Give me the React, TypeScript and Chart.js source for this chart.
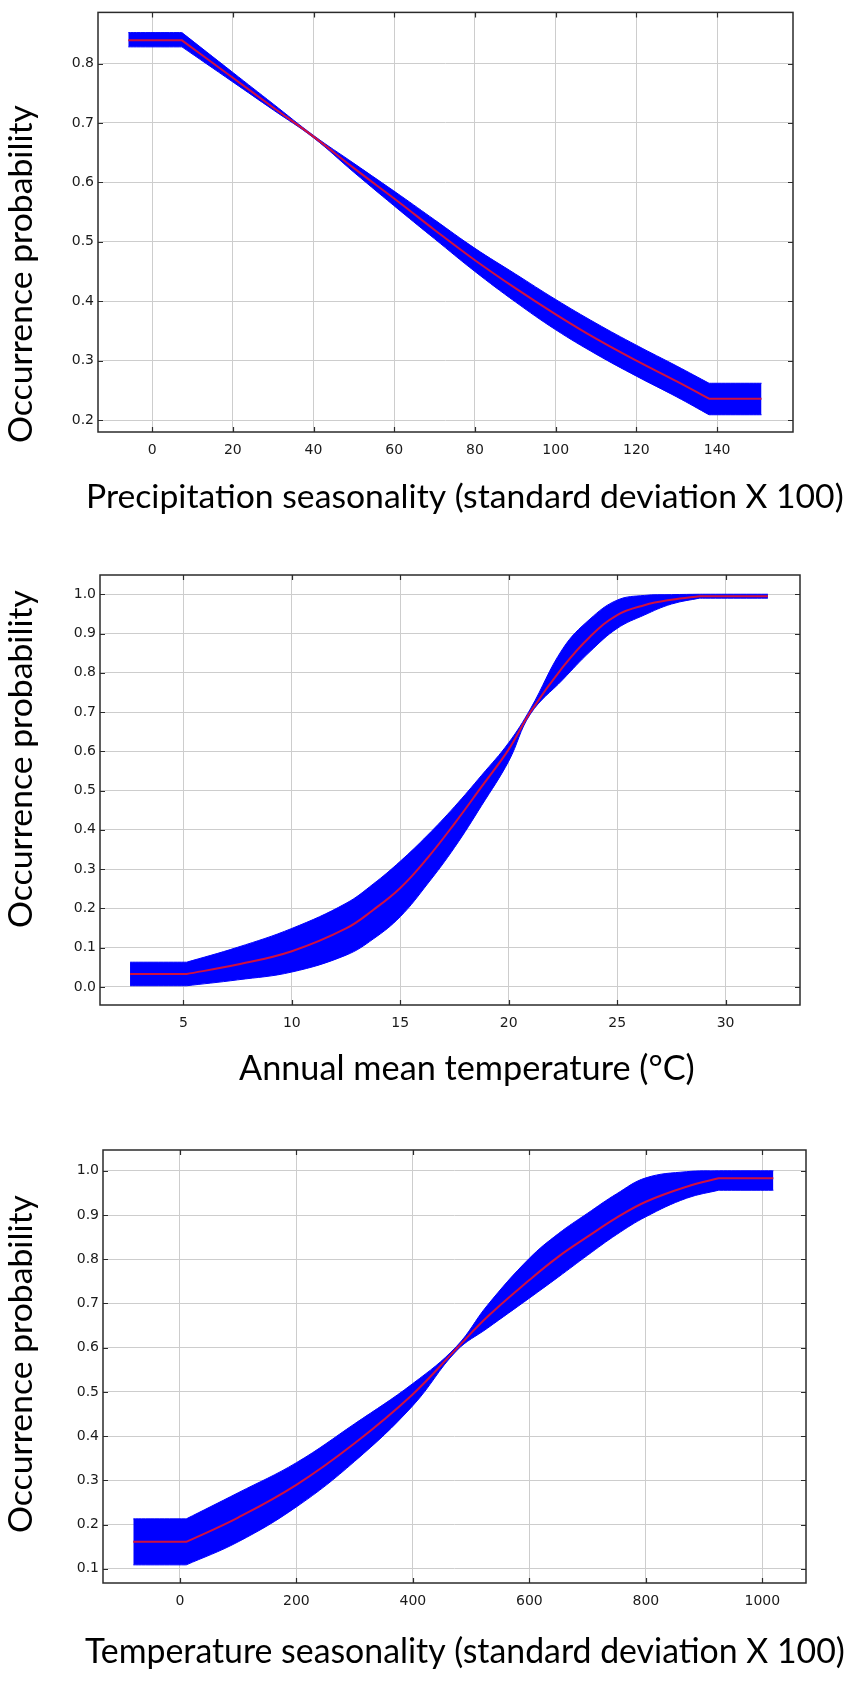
import React, { useEffect, useRef } from 'react';
import { Chart, registerables } from 'chart.js';

Chart.register(...registerables);

// Panel 1 - precipitation seasonality
const precipX = [-5.9, 7.4, 20, 30, 40, 50, 61.5, 70, 80, 90, 100, 110, 120, 130, 138, 151];
const precipMean = [0.839, 0.839, 0.776, 0.726, 0.677, 0.624, 0.565, 0.52, 0.469, 0.422, 0.378, 0.337, 0.3, 0.265, 0.236, 0.236];
const precipUpper = [0.852, 0.852, 0.785, 0.732, 0.679, 0.632, 0.578, 0.537, 0.489, 0.446, 0.403, 0.363, 0.326, 0.291, 0.262, 0.262];
const precipLower = [0.828, 0.828, 0.769, 0.722, 0.675, 0.617, 0.552, 0.505, 0.45, 0.399, 0.352, 0.311, 0.274, 0.239, 0.209, 0.209];
const precipXTicks = [0, 20, 40, 60, 80, 100, 120, 140];
const precipYTicks = [0.2, 0.3, 0.4, 0.5, 0.6, 0.7, 0.8];

// Panel 2 - annual mean temperature
const tempX = [2.54, 5.15, 7.5, 10, 12.5, 13.75, 15, 16.25, 17.5, 18.75, 20, 21, 22.5, 23.75, 25, 26.25, 27.5, 28.8, 31.95];
const tempMean = [0.033, 0.033, 0.057, 0.091, 0.149, 0.196, 0.252, 0.328, 0.416, 0.51, 0.605, 0.7, 0.815, 0.892, 0.947, 0.972, 0.986, 0.995, 0.995];
const tempUpper = [0.063, 0.063, 0.101, 0.149, 0.213, 0.262, 0.32, 0.386, 0.459, 0.539, 0.622, 0.708, 0.862, 0.937, 0.985, 0.997, 0.999, 1.0, 1.0];
const tempLower = [0.003, 0.003, 0.018, 0.038, 0.081, 0.122, 0.179, 0.262, 0.355, 0.462, 0.575, 0.695, 0.783, 0.854, 0.913, 0.947, 0.975, 0.99, 0.99];
const tempXTicks = [5, 10, 15, 20, 25, 30];
const tempYTicks = [0.0, 0.1, 0.2, 0.3, 0.4, 0.5, 0.6, 0.7, 0.8, 0.9, 1.0];

// Panel 3 - temperature seasonality
const tseasX = [-80, 11, 100, 200, 300, 400, 475, 528, 600, 650, 700, 750, 800, 870, 925, 1019];
const tseasMean = [0.161, 0.161, 0.216, 0.29, 0.384, 0.495, 0.598, 0.67, 0.753, 0.806, 0.851, 0.894, 0.93, 0.964, 0.983, 0.983];
const tseasUpper = [0.213, 0.213, 0.272, 0.34, 0.428, 0.519, 0.603, 0.696, 0.802, 0.858, 0.904, 0.948, 0.984, 0.998, 1.0, 1.0];
const tseasLower = [0.109, 0.109, 0.161, 0.24, 0.343, 0.469, 0.593, 0.644, 0.712, 0.76, 0.809, 0.856, 0.896, 0.938, 0.956, 0.956];
const tseasXTicks = [0, 200, 400, 600, 800, 1000];
const tseasYTicks = [0.1, 0.2, 0.3, 0.4, 0.5, 0.6, 0.7, 0.8, 0.9, 1.0];

const yTitle = 'Occurrence probability';
const precipTitle = 'Precipitation seasonality (standard deviation X 100)';
const tempTitle = 'Annual mean temperature (\u00B0C)';
const tseasTitle = 'Temperature seasonality (standard deviation X 100)';

const BLUE = '#0000ff';
const RED = '#d0103f';
const TITLE_FONT = 'Lato, "Open Sans", sans-serif';

interface PanelProps {
  xs: number[];
  mean: number[];
  upper: number[];
  lower: number[];
  xTicks: number[];
  yTicks: number[];
  xMin: number;
  xMax: number;
  yMin: number;
  yMax: number;
  top: number;
  height: number;
  plotLeft: number;
  plotRight: number;
  plotTop: number;
  axisHeight: number;
  xTitle: string;
  xTitleLeft: number;
  xTitleWidth: number;
  xTitleBaseline: number;
  yTitleCenter: number;
}

// the curves are clamped flat at both ends: keep those corners sharp
const kinkPlugin = {
  id: 'kinks',
  beforeDatasetsDraw(chart: any) {
    chart.getSortedVisibleDatasetMetas().forEach((meta: any) => {
      const line = meta.dataset;
      if (!line) return;
      line.updateControlPoints(chart.chartArea, meta.indexAxis || 'x');
      const pts = line.points;
      const n = pts.length;
      if (n < 4) return;
      const sharpen = (flat: number, k: number, nb: number) => {
        const a = pts[flat];
        const p = pts[k];
        const q = pts[nb];
        if (flat < k) {
          a.cp2x = a.x; a.cp2y = a.y;
          p.cp1x = p.x; p.cp1y = p.y;
          p.cp2x = p.x + (q.x - p.x) / 3; p.cp2y = p.y + (q.y - p.y) / 3;
        } else {
          a.cp1x = a.x; a.cp1y = a.y;
          p.cp2x = p.x; p.cp2y = p.y;
          p.cp1x = p.x + (q.x - p.x) / 3; p.cp1y = p.y + (q.y - p.y) / 3;
        }
      };
      sharpen(0, 1, 2);
      sharpen(n - 1, n - 2, n - 3);
    });
  },
};

const framePlugin = {
  id: 'frame',
  afterDraw(chart: any, _args: any, opts: any) {
    const { ctx, chartArea: a, scales } = chart;
    ctx.save();
    ctx.strokeStyle = '#2b2b2b';
    ctx.lineWidth = 1.5;
    ctx.strokeRect(a.left, a.top, a.right - a.left, a.bottom - a.top);

    ctx.lineWidth = 1.2;
    ctx.beginPath();
    scales.x.ticks.forEach((t: any) => {
      const px = Math.round(scales.x.getPixelForValue(t.value)) + 0.5;
      ctx.moveTo(px, a.bottom);
      ctx.lineTo(px, a.bottom - 5);
      ctx.moveTo(px, a.top);
      ctx.lineTo(px, a.top + 5);
    });
    scales.y.ticks.forEach((t: any) => {
      const py = Math.round(scales.y.getPixelForValue(t.value)) + 0.5;
      ctx.moveTo(a.left, py);
      ctx.lineTo(a.left + 5, py);
      ctx.moveTo(a.right, py);
      ctx.lineTo(a.right - 5, py);
    });
    ctx.stroke();

    // axis titles, sized to the width they take in the figure
    const fit = (text: string, len: number) => {
      ctx.font = `100px ${TITLE_FONT}`;
      const w = ctx.measureText(text).width;
      return (100 * len) / w;
    };
    ctx.fillStyle = '#000';
    ctx.font = `${fit(opts.xTitle, opts.xTitleWidth)}px ${TITLE_FONT}`;
    ctx.textAlign = 'left';
    ctx.textBaseline = 'alphabetic';
    ctx.fillText(opts.xTitle, opts.xTitleLeft, opts.xTitleBaseline);

    ctx.font = `${fit(yTitle, 338)}px ${TITLE_FONT}`;
    ctx.translate(21, opts.yTitleCenter);
    ctx.rotate(-Math.PI / 2);
    ctx.textAlign = 'center';
    ctx.textBaseline = 'middle';
    ctx.fillText(yTitle, 0, 0);
    ctx.restore();
  },
};

const Panel: React.FC<PanelProps> = (p) => {
  const canvasRef = useRef<HTMLCanvasElement>(null);
  const chartRef = useRef<Chart | null>(null);

  useEffect(() => {
    if (!canvasRef.current) return;
    const ctx = canvasRef.current.getContext('2d');
    if (!ctx) return;

    const pts = (ys: number[]) => p.xs.map((x, i) => ({ x, y: ys[i] }));
    const common = { pointRadius: 0, tension: 0.4 };

    chartRef.current = new Chart(ctx, {
      type: 'line',
      data: {
        datasets: [
          { ...common, data: pts(p.mean), borderColor: RED, borderWidth: 2, fill: false, order: 0 },
          {
            ...common,
            data: pts(p.upper),
            borderColor: BLUE,
            backgroundColor: BLUE,
            borderWidth: 1,
            fill: '+1',
            order: 1,
          },
          { ...common, data: pts(p.lower), borderColor: BLUE, borderWidth: 1, fill: false, order: 1 },
        ],
      },
      options: {
        responsive: false,
        animation: false,
        layout: { padding: { top: p.plotTop, right: 851 - p.plotRight, left: 0, bottom: 0 } },
        plugins: {
          legend: { display: false },
          tooltip: { enabled: false },
          frame: {
            xTitle: p.xTitle,
            xTitleLeft: p.xTitleLeft,
            xTitleWidth: p.xTitleWidth,
            xTitleBaseline: p.xTitleBaseline,
            yTitleCenter: p.yTitleCenter,
          },
        } as any,
        scales: {
          x: {
            type: 'linear',
            min: p.xMin,
            max: p.xMax,
            afterBuildTicks: (scale: any) => {
              scale.ticks = p.xTicks.map((value) => ({ value }));
            },
            afterFit: (scale: any) => {
              scale.height = p.axisHeight;
            },
            grid: { color: '#cdcdcd', lineWidth: 1, drawTicks: false },
            border: { display: false },
            ticks: {
              padding: 10,
              autoSkip: false,
              maxRotation: 0,
              color: '#1a1a1a',
              font: { family: '"DejaVu Sans", sans-serif', size: 14 },
              callback: (v: any) => String(v),
            },
          },
          y: {
            type: 'linear',
            min: p.yMin,
            max: p.yMax,
            afterBuildTicks: (scale: any) => {
              scale.ticks = p.yTicks.map((value) => ({ value }));
            },
            afterFit: (scale: any) => {
              scale.width = p.plotLeft;
            },
            grid: { color: '#cdcdcd', lineWidth: 1, drawTicks: false },
            border: { display: false },
            ticks: {
              padding: 4,
              autoSkip: false,
              color: '#1a1a1a',
              font: { family: '"DejaVu Sans", sans-serif', size: 14 },
              callback: (v: any) => Number(v).toFixed(1),
            },
          },
        },
      },
      plugins: [kinkPlugin, framePlugin],
    } as any);

    return () => {
      if (chartRef.current) {
        chartRef.current.destroy();
        chartRef.current = null;
      }
    };
  }, []);

  return (
    <canvas
      ref={canvasRef}
      width={851}
      height={p.height}
      style={{ position: 'absolute', left: 0, top: p.top, width: 851, height: p.height }}
    />
  );
};

export default function App() {
  return (
    <div style={{ position: 'absolute', left: 0, top: 0, width: 851, height: 1682, background: '#fff' }}>
      <Panel
        xs={precipX} mean={precipMean} upper={precipUpper} lower={precipLower}
        xTicks={precipXTicks} yTicks={precipYTicks}
        xMin={-13.4} xMax={158.8} yMin={0.18} yMax={0.886}
        top={0} height={530} plotLeft={98} plotRight={793} plotTop={5} axisHeight={98}
        xTitle={precipTitle} xTitleLeft={86} xTitleWidth={758} xTitleBaseline={508} yTitleCenter={274}
      />
      <Panel
        xs={tempX} mean={tempMean} upper={tempUpper} lower={tempLower}
        xTicks={tempXTicks} yTicks={tempYTicks}
        xMin={1.155} xMax={33.43} yMin={-0.046} yMax={1.049}
        top={530} height={570} plotLeft={100} plotRight={800} plotTop={45} axisHeight={95}
        xTitle={tempTitle} xTitleLeft={239} xTitleWidth={456} xTitleBaseline={550} yTitleCenter={229}
      />
      <Panel
        xs={tseasX} mean={tseasMean} upper={tseasUpper} lower={tseasLower}
        xTicks={tseasXTicks} yTicks={tseasYTicks}
        xMin={-132} xMax={1075} yMin={0.068} yMax={1.047}
        top={1100} height={582} plotLeft={103} plotRight={806} plotTop={50} axisHeight={99}
        xTitle={tseasTitle} xTitleLeft={85} xTitleWidth={760} xTitleBaseline={563} yTitleCenter={264}
      />
    </div>
  );
}
